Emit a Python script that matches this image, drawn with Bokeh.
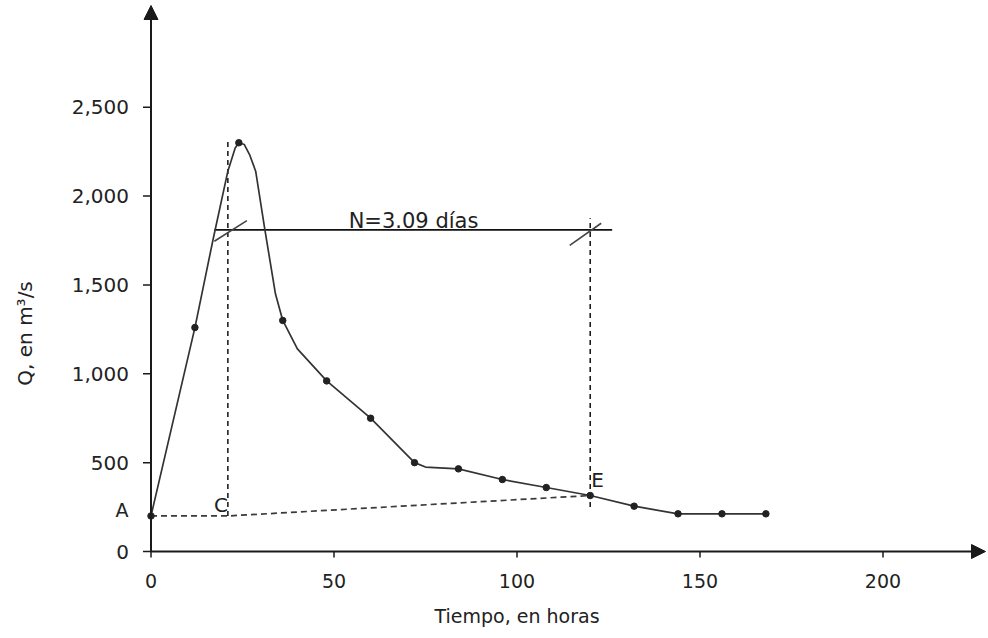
import math
from bokeh.plotting import figure
from bokeh.models import Range1d, Arrow, NormalHead
from bokeh.core.properties import value
from bokeh.embed import file_html
from bokeh.resources import INLINE

# Observed hydrograph points (every 12 h)
t_obs = [0, 12, 24, 36, 48, 60, 72, 84, 96, 108, 120, 132, 144, 156, 168]
q_obs = [200, 1260, 2300, 1300, 960, 750, 500, 465, 405, 360, 315, 255, 212, 212, 212]

# Hand-drawn curve
curve_t = [0, 12, 17, 21, 23, 24, 25.5, 27, 28.6, 31, 34, 36, 40, 48, 60, 72, 75, 84, 96, 108, 120, 132, 144, 156, 168]
curve_q = [200, 1260, 1760, 2140, 2270, 2300, 2290, 2230, 2140, 1825, 1450, 1300, 1140, 960, 750, 500, 475, 465, 405, 360, 315, 255, 212, 212, 212]

# Base flow separation A-C-E
base_t = [0, 21, 120]
base_q = [200, 200, 315]

# Vertical dashed lines at C and E
vc_t = [21, 21]
vc_q = [200, 2325]
ve_t = [120, 120]
ve_q = [250, 1875]

# N line and its slashes
n_t = [17.3, 126]
n_q = [1810, 1810]
slash_c_t = [17.3, 26.2]
slash_c_q = [1746, 1862]
slash_e_t = [114.4, 123]
slash_e_q = [1722, 1847]

x_ticks = [0, 50, 100, 150, 200]
x_tick_labels = ["0", "50", "100", "150", "200"]
y_ticks = [0, 500, 1000, 1500, 2000, 2500]
y_tick_labels = ["0", "500", "1,000", "1,500", "2,000", "2,500"]

W, H = 988, 638
X0_PX, Y0_PX = 150.5, 551.0      # pixel position of the origin
PX_PER_H = 3.66                   # pixels per hour
PX_PER_Q = 0.17772                # pixels per m3/s

x_range = Range1d(-X0_PX / PX_PER_H, (W - X0_PX) / PX_PER_H)
y_range = Range1d(-(H - Y0_PX) / PX_PER_Q, Y0_PX / PX_PER_Q)
X_TIP = (985 - X0_PX) / PX_PER_H
Y_TIP = (Y0_PX - 5) / PX_PER_Q

p = figure(width=W, height=H, output_backend="svg", toolbar_location=None,
           x_range=x_range, y_range=y_range, x_axis_location=None, y_axis_location=None,
           min_border=0)
p.outline_line_color = None
p.grid.visible = False
p.background_fill_color = "white"
p.border_fill_color = "white"

AX = "#1a1a1a"
TXT = "#222222"
FONT = value("DejaVu Sans")

# axes with arrow heads
p.add_layout(Arrow(end=NormalHead(size=14, fill_color=AX, line_color=AX, line_width=1),
                   line_color=AX, line_width=2, x_start=0, y_start=0, x_end=0, y_end=Y_TIP))
p.add_layout(Arrow(end=NormalHead(size=14, fill_color=AX, line_color=AX, line_width=1),
                   line_color=AX, line_width=2, x_start=0, y_start=0, x_end=X_TIP, y_end=0))

# ticks
xt_len = 6 / PX_PER_Q
yt_len = 8 / PX_PER_H
p.segment(x0=x_ticks, y0=[0] * len(x_ticks), x1=x_ticks, y1=[-xt_len] * len(x_ticks),
          line_color=AX, line_width=1.5)
p.segment(x0=[0] * len(y_ticks), y0=y_ticks, x1=[-yt_len] * len(y_ticks), y1=y_ticks,
          line_color=AX, line_width=1.5)

# tick labels
p.text(x=x_ticks, y=[0] * len(x_ticks), text=x_tick_labels, text_font=FONT, text_font_size="19px",
       text_color=TXT, text_align="center", text_baseline="middle", y_offset=29)
p.text(x=[0] * len(y_ticks), y=y_ticks, text=y_tick_labels, text_font=FONT, text_font_size="20px",
       text_color=TXT, text_align="right", text_baseline="middle", x_offset=-22)

# dashed construction lines
p.line(base_t, base_q, line_color="#3a3a3a", line_width=1.7, line_dash="6 4")
p.line(vc_t, vc_q, line_color="#111111", line_width=1.5, line_dash="5 4")
p.line(ve_t, ve_q, line_color="#111111", line_width=1.5, line_dash="5 4")

# N line
p.line(n_t, n_q, line_color="#111111", line_width=1.6)
p.line(slash_c_t, slash_c_q, line_color="#444444", line_width=1.6)
p.line(slash_e_t, slash_e_q, line_color="#444444", line_width=1.6)

# hydrograph
p.line(curve_t, curve_q, line_color="#333333", line_width=1.7)
p.scatter(t_obs, q_obs, size=6.5, color="#222222")

# annotations
p.text(x=[54], y=[1862], text=["N=3.09 días"], text_font=FONT, text_font_size="21px",
       text_color=TXT, text_align="left", text_baseline="alphabetic")
p.text(x=[21], y=[259], text=["C"], text_font=FONT, text_font_size="20px",
       text_color=TXT, text_align="right", text_baseline="alphabetic")
p.text(x=[120.3], y=[400], text=["E"], text_font=FONT, text_font_size="20px",
       text_color=TXT, text_align="left", text_baseline="alphabetic")
p.text(x=[-6.15], y=[231], text=["A"], text_font=FONT, text_font_size="19px",
       text_color=TXT, text_align="right", text_baseline="alphabetic")

# axis titles
p.text(x=[100], y=[-365], text=["Tiempo, en horas"], text_font=FONT, text_font_size="19px",
       text_color=TXT, text_align="center", text_baseline="middle")
p.text(x=[-34.3], y=[1227], text=["Q, en m³/s"], text_font=FONT, text_font_size="20px",
       text_color=TXT, text_align="center", text_baseline="middle", angle=math.pi / 2)

open("out.html", "w").write(file_html(p, INLINE))
